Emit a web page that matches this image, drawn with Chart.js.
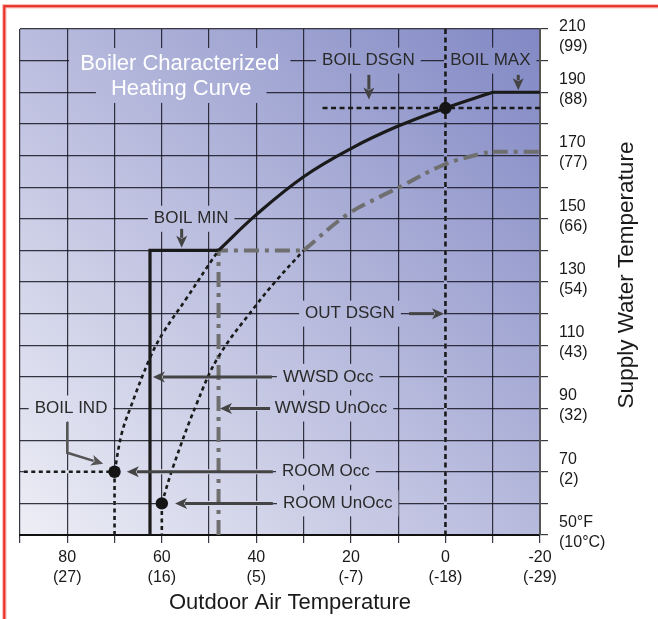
<!DOCTYPE html>
<html>
<head>
<meta charset="utf-8">
<script src="https://cdn.jsdelivr.net/npm/chart.js@4.4.0/dist/chart.umd.min.js"></script>
<style>
  html, body { margin: 0; padding: 0; background: #fff; }
  #wrap { width: 658px; height: 619px; }
</style>
</head>
<body>
<div id="wrap"><canvas id="myChart" width="658" height="619"></canvas></div>
<script>
// tick labels, °F with °C underneath
const xTickF = [80, 60, 40, 20, 0, -20];
const xTickC = ['(27)', '(16)', '(5)', '(-7)', '(-18)', '(-29)'];
const yTickVal = [210, 190, 170, 150, 130, 110, 90, 70, 50];
const yTickF = ['210', '190', '170', '150', '130', '110', '90', '70', '50°F'];
const yTickC = ['(99)', '(88)', '(77)', '(66)', '(54)', '(43)', '(32)', '(2)', '(10°C)'];

// occupied heating curve (outdoor °F -> supply °F)
const occLowX = [70, 68.5, 66.7, 62.5, 59.7, 54.7, 50.5, 48];
const occLowY = [70, 82, 90, 106, 114, 125, 134.5, 140];
const occX = [48, 40, 30, 20, 10, 0, -10];
const occY = [140, 151.3, 163.3, 172.2, 179.3, 185, 190];
const boilMinX = [62.5, 62.5, 48];
const boilMinY = [50, 140, 140];
const boilMaxX = [-10, -20];
const boilMaxY = [190, 190];

// unoccupied heating curve
const unoccLowX = [60, 57.6, 52.6, 48, 40.3, 35.7, 30];
const unoccLowY = [60, 71.6, 91.6, 106.4, 122.2, 130.6, 140];
const unoccMinX = [48, 48, 30];
const unoccMinY = [50, 140, 140];
const unoccX = [30, 20.9, 13.8, 9.6, 0.45, -7.3, -10];
const unoccY = [140, 151.2, 157, 160.1, 167, 170.5, 171.2];
const unoccMaxX = [-10, -20];
const unoccMaxY = [171.2, 171.2];

// design and room reference lines
const outDsgnX = [0, 0];
const outDsgnY = [210, 50];
const boilDsgnX = [26, -20];
const boilDsgnY = [185, 185];
const roomOccX = [89.2, 70, 70];
const roomOccY = [70, 70, 50];
const roomUnoccX = [60, 60];
const roomUnoccY = [60, 50];
const dotX = [0, 70, 60];
const dotY = [185, 70, 60];

// callouts, anchored in data units
const noteText = ['BOIL DSGN', 'BOIL MAX', 'BOIL MIN', 'OUT DSGN', 'WWSD Occ', 'WWSD UnOcc', 'BOIL IND', 'ROOM Occ', 'ROOM UnOcc'];
const noteX = [16.3, -9.5, 53.8, 20.2, 24.8, 24.2, 79.2, 25.3, 22.8];
const noteY = [200, 200, 150, 120, 100, 90, 90, 70, 60];
const arrowX1 = [16.2, -15.4, 55.8, 7.7, 36.7, 37.1, 36.5, 36.5];
const arrowY1 = [195.5, 195.5, 146.8, 120, 100, 90, 70, 60];
const arrowX2 = [16.2, -15.4, 55.8, 0.3, 61.9, 47.7, 67.4, 57.2];
const arrowY2 = [187.7, 190.6, 140.8, 120, 100, 90, 70, 60];
const indX = [80, 80, 72.4];
const indY = [85.7, 76, 72.5];
const titleLines = ['Boiler Characterized', 'Heating Curve'];
const titleX = [56.2, 55.9];
const titleY = [199.1, 191.2];

// dashed lines that sit on grid lines: the grid is hidden under them
const onGrid = [[outDsgnX, outDsgnY], [roomOccX, roomOccY], [roomUnoccX, roomUnoccY], [unoccMinX, unoccMinY]];

const FONT = "'Liberation Sans', Arial, sans-serif";

const pts = (xs, ys) => xs.map((x, i) => ({ x: x, y: ys[i] }));

function line(xs, ys, color, width, dash, smooth) {
  return {
    data: pts(xs, ys),
    showLine: true,
    borderColor: color,
    borderWidth: width,
    borderDash: dash || [],
    borderCapStyle: 'butt',
    pointRadius: 0,
    fill: false,
    tension: smooth ? 0.4 : 0
  };
}

function makeGrad(chart) {
  const a = chart.chartArea;
  const g = chart.ctx.createLinearGradient(a.left, a.bottom, a.right, a.top);
  g.addColorStop(0, '#eeeef6');
  g.addColorStop(1, '#8188c4');
  return g;
}

function drawArrow(ctx, p, color, w) {
  const n = p.length;
  const tx = p[n - 1][0], ty = p[n - 1][1];
  const ang = Math.atan2(ty - p[n - 2][1], tx - p[n - 2][0]);
  const hl = 12, hw = 5.5;
  const bx = tx - hl * Math.cos(ang), by = ty - hl * Math.sin(ang);
  ctx.strokeStyle = color;
  ctx.fillStyle = color;
  ctx.lineWidth = w;
  ctx.lineJoin = 'miter';
  ctx.beginPath();
  ctx.moveTo(p[0][0], p[0][1]);
  for (let i = 1; i < n - 1; i++) ctx.lineTo(p[i][0], p[i][1]);
  ctx.lineTo(bx + 2 * Math.cos(ang), by + 2 * Math.sin(ang));
  ctx.stroke();
  ctx.beginPath();
  ctx.moveTo(tx, ty);
  ctx.lineTo(bx + hw * Math.sin(ang), by - hw * Math.cos(ang));
  ctx.lineTo(bx + 3 * Math.cos(ang), by + 3 * Math.sin(ang));
  ctx.lineTo(bx - hw * Math.sin(ang), by + hw * Math.cos(ang));
  ctx.closePath();
  ctx.fill();
}

const sketch = {
  id: 'sketch',
  beforeDraw(chart) {
    const { ctx, chartArea: a } = chart;
    ctx.save();
    ctx.fillStyle = '#fff';
    ctx.fillRect(0, 0, chart.width, chart.height);
    ctx.fillStyle = makeGrad(chart);
    ctx.fillRect(a.left, a.top, a.right - a.left, a.bottom - a.top);
    ctx.strokeStyle = 'rgba(245,140,130,0.55)';
    ctx.lineWidth = 4.5;
    ctx.strokeRect(4.3, 6.2, 900, 900);
    ctx.strokeStyle = '#e8322a';
    ctx.lineWidth = 2.2;
    ctx.strokeRect(4.3, 6.2, 900, 900);
    ctx.restore();
  },
  beforeDatasetsDraw(chart) {
    // cut the grid away behind the callouts
    const { ctx, chartArea: a } = chart;
    const xs = chart.scales.x, ys = chart.scales.y;
    ctx.save();
    const grad = makeGrad(chart);
    ctx.fillStyle = grad;
    ctx.strokeStyle = grad;
    ctx.beginPath();
    ctx.rect(a.left + 1, a.top + 1, a.right - a.left - 2, a.bottom - a.top - 2);
    ctx.clip();
    ctx.lineWidth = 3;
    onGrid.forEach(([lx, ly]) => {
      ctx.beginPath();
      lx.forEach((x, i) => {
        const px = xs.getPixelForValue(x), py = ys.getPixelForValue(ly[i]);
        if (i === 0) ctx.moveTo(px, py); else ctx.lineTo(px, py);
      });
      ctx.stroke();
    });
    ctx.font = '17px ' + FONT;
    noteText.forEach((t, i) => {
      const w = ctx.measureText(t).width;
      const cx = xs.getPixelForValue(noteX[i]), cy = ys.getPixelForValue(noteY[i]);
      ctx.fillRect(cx - w / 2 - 6, cy - 13, w + 12, 26);
    });
    arrowX1.forEach((x1, i) => {
      const px1 = xs.getPixelForValue(x1), py1 = ys.getPixelForValue(arrowY1[i]);
      const px2 = xs.getPixelForValue(arrowX2[i]), py2 = ys.getPixelForValue(arrowY2[i]);
      if (py1 !== py2) return;
      const over = px2 < px1 ? 10 : 0;
      const l = Math.min(px1, px2) - over, r = Math.max(px1, px2);
      ctx.fillRect(l, py1 - 2.5, r - l, 5);
    });
    ctx.font = '22px ' + FONT;
    titleLines.forEach((t, i) => {
      const w = ctx.measureText(t).width;
      const cx = xs.getPixelForValue(titleX[i]), cy = ys.getPixelForValue(titleY[i]);
      const pad = i === 0 ? 11 : 15;
      const top = i === 0 ? 15.5 : 10.5;
      ctx.fillRect(cx - w / 2 - pad, cy - top, w + pad * 2, top + 14.5);
    });
    ctx.restore();
  },
  afterDatasetsDraw(chart) {
    const { ctx } = chart;
    const xs = chart.scales.x, ys = chart.scales.y;
    ctx.save();
    arrowX1.forEach((x1, i) => {
      drawArrow(ctx, [
        [xs.getPixelForValue(x1), ys.getPixelForValue(arrowY1[i])],
        [xs.getPixelForValue(arrowX2[i]), ys.getPixelForValue(arrowY2[i])]
      ], '#444', 3);
    });
    drawArrow(ctx, indX.map((x, i) => [xs.getPixelForValue(x), ys.getPixelForValue(indY[i])]), '#555', 2.5);

    ctx.textAlign = 'center';
    ctx.textBaseline = 'middle';
    ctx.fillStyle = '#2a2a2a';
    ctx.font = '17px ' + FONT;
    noteText.forEach((t, i) => {
      ctx.fillText(t, xs.getPixelForValue(noteX[i]), ys.getPixelForValue(noteY[i]));
    });
    ctx.fillStyle = '#fff';
    ctx.font = '22px ' + FONT;
    titleLines.forEach((t, i) => {
      ctx.fillText(t, xs.getPixelForValue(titleX[i]), ys.getPixelForValue(titleY[i]));
    });

    // axis titles
    ctx.fillStyle = '#1a1a1a';
    ctx.font = '22px ' + FONT;
    ctx.fillText('Outdoor Air Temperature', 290, 603);
    ctx.translate(627, 275);
    ctx.rotate(-Math.PI / 2);
    ctx.font = '22.5px ' + FONT;
    ctx.fillText('Supply Water Temperature', 0, 0);
    ctx.restore();
  }
};

const GRID = 'rgba(22,22,34,0.85)';

new Chart(document.getElementById('myChart'), {
  type: 'scatter',
  data: {
    datasets: [
      { data: pts(dotX, dotY), pointRadius: 6.2, pointBackgroundColor: '#151515', pointBorderWidth: 0, showLine: false },
      line(boilMinX, boilMinY, '#1a1a1a', 3.2),
      line(occX, occY, '#1a1a1a', 3.2, null, true),
      line(boilMaxX, boilMaxY, '#1a1a1a', 3.2),
      line(occLowX, occLowY, '#1a1a1a', 2.6, [4, 3.5], true),
      line(unoccLowX, unoccLowY, '#1a1a1a', 2.6, [4, 3.5], true),
      line(unoccMinX, unoccMinY, '#6f6f6f', 4, [15, 6, 4, 6]),
      line(unoccX, unoccY, '#6f6f6f', 4, [15, 6, 4, 6], true),
      line(unoccMaxX, unoccMaxY, '#6f6f6f', 4, [15, 6, 4, 6]),
      line(outDsgnX, outDsgnY, '#1a1a1a', 2.6, [5, 3.5]),
      line(boilDsgnX, boilDsgnY, '#1a1a1a', 2.6, [5, 3.5]),
      line(roomOccX, roomOccY, '#1a1a1a', 2.6, [4, 3.5]),
      line(roomUnoccX, roomUnoccY, '#1a1a1a', 2.6, [4, 3.5])
    ]
  },
  options: {
    responsive: false,
    animation: false,
    events: [],
    layout: { padding: { left: 20, top: 29, right: 0, bottom: 0 } },
    plugins: { legend: { display: false }, tooltip: { enabled: false } },
    scales: {
      x: {
        type: 'linear',
        position: 'bottom',
        min: -20,
        max: 90,
        reverse: true,
        afterFit(scale) { scale.height = 84; },
        grid: { color: GRID, lineWidth: 1.2, tickLength: 8 },
        border: { color: '#111', width: 2 },
        ticks: {
          stepSize: 10,
          padding: 4,
          maxRotation: 0,
          autoSkip: false,
          color: '#1a1a1a',
          font: { family: FONT, size: 16, lineHeight: 1.28 },
          callback(v) {
            const i = xTickF.indexOf(v);
            return i < 0 ? '' : [String(xTickF[i]), xTickC[i]];
          }
        }
      },
      y: {
        type: 'linear',
        position: 'right',
        min: 50,
        max: 210,
        afterFit(scale) {
          scale.width = 118;
          scale.paddingTop = 0;
          scale.paddingBottom = 0;
        },
        grid: { color: GRID, lineWidth: 1.2, tickLength: 8 },
        border: { color: '#555', width: 2 },
        ticks: {
          stepSize: 10,
          padding: 11,
          labelOffset: -2.5,
          autoSkip: false,
          color: '#1a1a1a',
          font: { family: FONT, size: 16, lineHeight: 1.25 },
          callback(v) {
            const i = yTickVal.indexOf(v);
            if (i < 0) return '';
            // top label hangs below its tick to stay inside the frame
            return i === 0 ? ['', yTickF[i], yTickC[i]] : [yTickF[i], yTickC[i]];
          }
        }
      }
    }
  },
  plugins: [sketch]
});
</script>
</body>
</html>
